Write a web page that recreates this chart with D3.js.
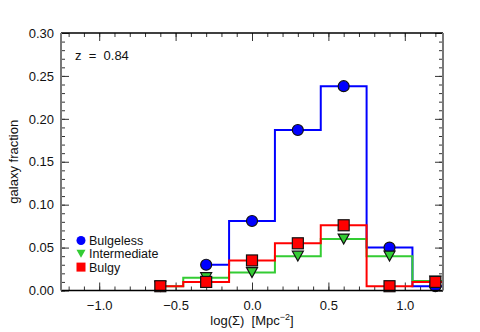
<!DOCTYPE html>
<html>
<head>
<meta charset="utf-8">
<script src="https://cdn.jsdelivr.net/npm/d3@7"></script>
<style>
  body { margin: 0; background: #fff; }
  svg { display: block; font-family: "Liberation Sans", Arial, sans-serif; }
</style>
</head>
<body>
<svg id="chart" width="480" height="332"></svg>
<script>
// bin centres in log(Sigma)
const binCenters = [-0.6, -0.3, 0.0, 0.3, 0.6, 0.9, 1.2];
const binWidth = 0.3;

// fractions (null = no bin)
const bulgeless    = [null, 0.030, 0.081, 0.187, 0.238, 0.050, 0.005];
const intermediate = [0.005, 0.015, 0.021, 0.040, 0.060, 0.040, 0.011];
const bulgy        = [0.005, 0.010, 0.035, 0.055, 0.076, 0.005, 0.010];

const xMajorTicks = [-1.0, -0.5, 0.0, 0.5, 1.0];
const yMajorTicks = [0.00, 0.05, 0.10, 0.15, 0.20, 0.25, 0.30];

const series = [
    { name: "Bulgeless",    values: bulgeless,    color: "#0000ff", shape: "circle" },
    { name: "Intermediate", values: intermediate, color: "#33cc33", shape: "triangle" },
    { name: "Bulgy",        values: bulgy,        color: "#ff0000", shape: "square" }
];

const svg = d3.select("#chart");
const pLeft = 61, pRight = 443, pTop = 33, pBottom = 290.5;

const x = d3.scaleLinear().domain([-1.25, 1.25]).range([pLeft, pRight]);
const y = d3.scaleLinear().domain([0, 0.30]).range([pBottom, pTop]);

svg.append("defs").append("clipPath").attr("id", "plot-clip")
    .append("rect")
    .attr("x", pLeft).attr("y", pTop)
    .attr("width", pRight - pLeft).attr("height", pBottom - pTop);

// ticks (all pointing inward)
const xMinor = d3.range(-12, 13).map(d => d / 10);
const yMinor = d3.range(0, 31).map(d => d / 100);

function addAxis(axis, transform, labels) {
    const g = svg.append("g").attr("transform", transform).call(axis);
    g.select(".domain").remove();
    g.selectAll(".tick line").attr("stroke", "#333").attr("stroke-width", 1);
    g.selectAll("text")
        .attr("font-size", 13)
        .attr("font-family", "Liberation Sans, Arial, sans-serif")
        .attr("fill", "#111");
    if (!labels) g.selectAll("text").remove();
    return g;
}

addAxis(d3.axisBottom(x).tickValues(xMinor).tickSize(-4).tickFormat(""), `translate(0,${pBottom})`, false);
addAxis(d3.axisBottom(x).tickValues(xMajorTicks).tickSize(-8).tickPadding(10)
    .tickFormat(d3.format(".1f")), `translate(0,${pBottom})`, true);
addAxis(d3.axisTop(x).tickValues(xMinor).tickSize(-4).tickFormat(""), `translate(0,${pTop})`, false);
addAxis(d3.axisTop(x).tickValues(xMajorTicks).tickSize(-8).tickFormat(""), `translate(0,${pTop})`, false);

addAxis(d3.axisLeft(y).tickValues(yMinor).tickSize(-4).tickFormat(""), `translate(${pLeft},0)`, false);
addAxis(d3.axisLeft(y).tickValues(yMajorTicks).tickSize(-8).tickPadding(7)
    .tickFormat(d3.format(".2f")), `translate(${pLeft},0)`, true);
addAxis(d3.axisRight(y).tickValues(yMinor).tickSize(-4).tickFormat(""), `translate(${pRight},0)`, false);
addAxis(d3.axisRight(y).tickValues(yMajorTicks).tickSize(-8).tickFormat(""), `translate(${pRight},0)`, false);

// histograms + symbols, one series after another
const stepLine = d3.line().curve(d3.curveStep).x(d => x(d[0])).y(d => y(d[1]));
const plot = svg.append("g").attr("clip-path", "url(#plot-clip)");

function drawShape(g, shape, cx, cy, size, color, outline) {
    let el;
    if (shape === "circle") {
        el = g.append("circle").attr("cx", cx).attr("cy", cy).attr("r", size / 2);
    } else if (shape === "square") {
        el = g.append("rect").attr("x", cx - size / 2).attr("y", cy - size / 2)
            .attr("width", size).attr("height", size);
    } else {
        const h = size * 0.9;
        el = g.append("path")
            .attr("d", `M${cx - size / 2},${cy - h / 2}L${cx + size / 2},${cy - h / 2}L${cx},${cy + h / 2}Z`);
    }
    el.attr("fill", color);
    if (outline) el.attr("stroke", "#111").attr("stroke-width", 1.2);
}

series.forEach(s => {
    const pts = binCenters.map((c, i) => [c, s.values[i]]).filter(d => d[1] !== null);
    const last = pts[pts.length - 1];
    plot.append("path")
        .attr("d", stepLine(pts) + "H" + x(last[0] + binWidth / 2))
        .attr("fill", "none")
        .attr("stroke", s.color)
        .attr("stroke-width", 2);
    pts.forEach(d => drawShape(svg, s.shape, x(d[0]), y(d[1]), 11, s.color, true));
});

// frame
svg.append("line").attr("x1", pLeft).attr("x2", pRight).attr("y1", pBottom).attr("y2", pBottom)
    .attr("stroke", "#000").attr("stroke-width", 1.5);
svg.append("line").attr("x1", pLeft).attr("x2", pRight).attr("y1", pTop).attr("y2", pTop)
    .attr("stroke", "#000").attr("stroke-width", 1.5);
svg.append("line").attr("x1", pLeft).attr("x2", pLeft).attr("y1", pTop).attr("y2", pBottom)
    .attr("stroke", "#777").attr("stroke-width", 2);
svg.append("line").attr("x1", pRight).attr("x2", pRight).attr("y1", pTop).attr("y2", pBottom)
    .attr("stroke", "#777").attr("stroke-width", 2);

// legend
series.forEach((s, i) => {
    const ly = 240.5 + i * 13.3;
    drawShape(svg, s.shape, 81, ly, 9, s.color, false);
    svg.append("text").attr("x", 89).attr("y", ly).attr("dy", "0.36em")
        .attr("font-size", 12.5).attr("fill", "#111").text(s.name);
});

// redshift label
svg.append("text").attr("x", 75).attr("y", 55).attr("dy", "0.36em")
    .attr("font-size", 13).attr("fill", "#111")
    .style("white-space", "pre").text("z  =  0.84");

// axis titles
svg.append("text")
    .attr("transform", `translate(13,${(pTop + pBottom) / 2}) rotate(-90)`)
    .attr("text-anchor", "middle").attr("dy", "0.36em")
    .attr("font-size", 13).attr("fill", "#111")
    .text("galaxy fraction");

const xt = svg.append("text")
    .attr("x", (pLeft + pRight) / 2).attr("y", 325)
    .attr("text-anchor", "middle")
    .attr("font-size", 13).attr("fill", "#111");
xt.append("tspan").text("log(\u03a3)  [Mpc").style("white-space", "pre");
xt.append("tspan").attr("dy", -5).attr("font-size", 9).text("\u22122");
xt.append("tspan").attr("dy", 5).text("]");
</script>
</body>
</html>
